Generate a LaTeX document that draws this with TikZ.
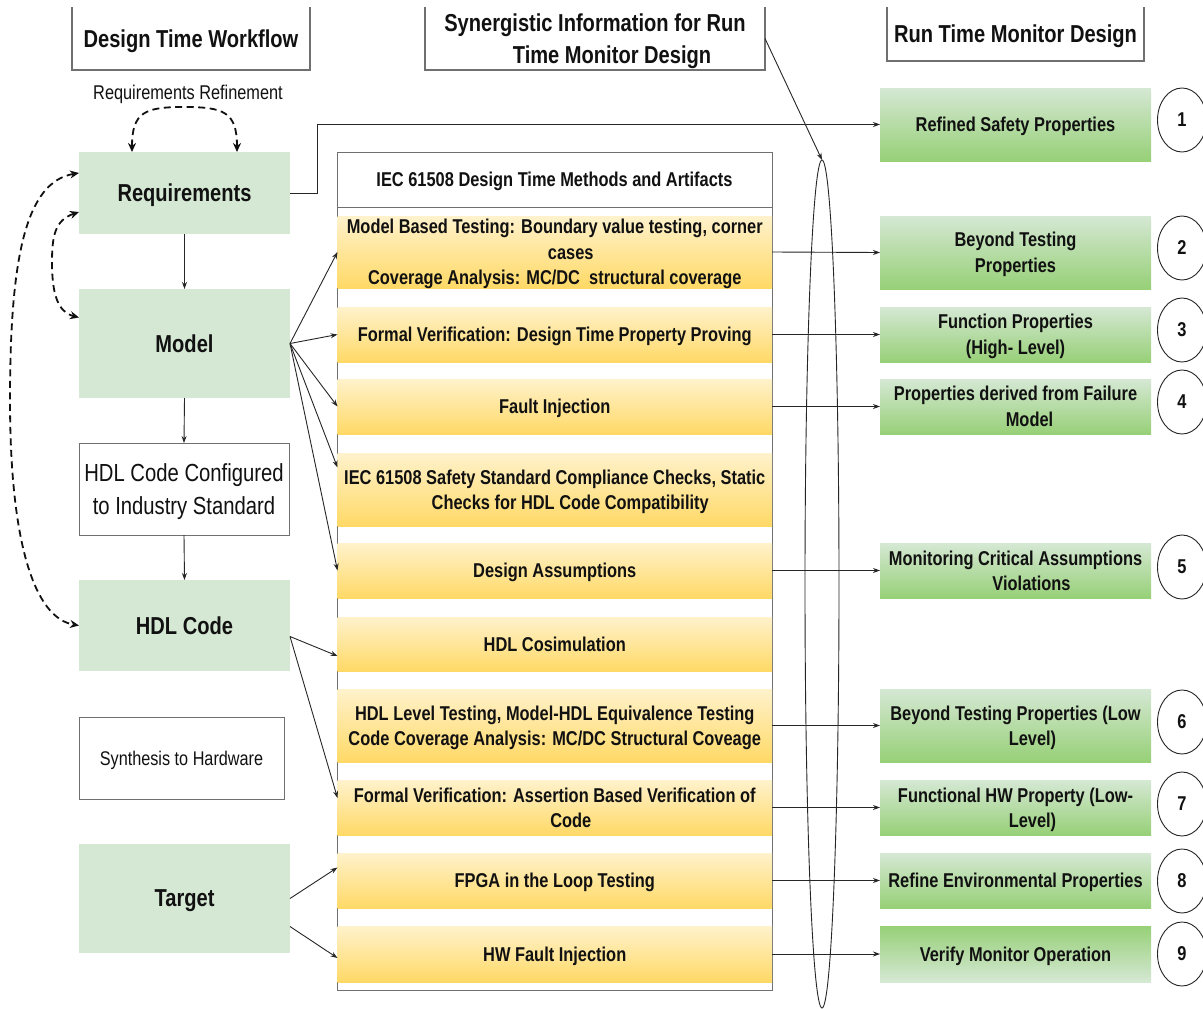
\documentclass[tikz,border=0pt]{standalone}
\usepackage{fontspec}
\setmainfont[FakeStretch=0.82]{Liberation Sans}
\usetikzlibrary{arrows.meta,shapes.geometric}

\definecolor{ink}{HTML}{111111}
\definecolor{wire}{HTML}{262626}
\definecolor{edge}{HTML}{707070}
\definecolor{stepgreen}{HTML}{D5E8D4}
\definecolor{ylwtop}{HTML}{FFF2CC}
\definecolor{ylwbot}{HTML}{FFD966}
\definecolor{grntop}{HTML}{D5E8D4}
\definecolor{grnbot}{HTML}{97D077}

\newcommand{\hdrfont}{\bfseries\fontsize{24.5}{32}\selectfont}
\newcommand{\cellfont}{\bfseries\fontsize{20}{25.5}\selectfont}

\begin{document}
\begin{tikzpicture}[x=1pt,y=-1pt,
  every node/.style={text=ink, inner sep=0pt, outer sep=0pt, text depth=0pt},
  hdrbox/.style={anchor=north west, font=\hdrfont, align=center},
  hdrline/.style={draw=edge, line width=1.1pt},
  flowbox/.style={anchor=north west, fill=stepgreen, font=\hdrfont},
  plainbox/.style={anchor=north west, draw=edge, line width=1pt, fill=white, align=center},
  band/.style={anchor=north west, minimum width=434.5pt, top color=ylwtop, bottom color=ylwbot,
               font=\cellfont, align=center},
  prop/.style={anchor=north west, minimum width=271pt, top color=grntop, bottom color=grnbot,
               font=\cellfont, align=center},
  propdark/.style={prop, top color=grnbot, bottom color=grntop},
  numring/.style={ellipse, draw=wire, line width=0.9pt, minimum width=49pt, minimum height=64pt,
                  font=\cellfont},
  conn/.style={draw=wire, line width=0.9pt, -{Stealth[length=7pt,width=5pt]}},
  loopback/.style={draw=ink, line width=1.8pt, dash pattern=on 7pt off 4.5pt,
                   {Stealth[length=9pt,width=8pt]}-{Stealth[length=9pt,width=8pt]}}
]
\useasboundingbox (0,0) rectangle (1203,1009);
\fill[white] (0,0) rectangle (1203,1009);

% ---------- column headers (open at the top) ----------
\node[hdrbox, minimum width=238pt, minimum height=63pt] (hdrA) at (72,7) {Design Time Workflow};
\draw[hdrline] (hdrA.north west) |- (hdrA.south east) -- (hdrA.north east);

\node[hdrbox, minimum width=340pt, minimum height=63pt] (hdrB) at (425,7)
  {Synergistic Information for Run\\\hspace*{34pt}Time Monitor Design};
\draw[hdrline] (hdrB.north west) |- (hdrB.south east) -- (hdrB.north east);

\node[hdrbox, minimum width=257pt, minimum height=54pt] (hdrC) at (887,7) {Run Time Monitor Design};
\draw[hdrline] (hdrC.north west) |- (hdrC.south east) -- (hdrC.north east);

% ---------- design time workflow ----------
\node[font=\fontsize{19.9}{24}\selectfont] (refine) at (188,92) {Requirements Refinement};

\node[flowbox, minimum width=211pt, minimum height=82pt] (req) at (79,152) {Requirements};
\node[flowbox, minimum width=211pt, minimum height=109pt] (model) at (79,289) {Model};
\node[plainbox, minimum width=210pt, minimum height=92pt, font=\fontsize{24.7}{33}\selectfont] (cfg) at (79,443)
  {HDL Code Configured\\to Industry Standard};
\node[flowbox, minimum width=211pt, minimum height=91pt] (hdl) at (79,580) {HDL Code};
\node[plainbox, minimum width=205pt, minimum height=82pt, font=\fontsize{19.8}{24}\selectfont] (synth) at (79,717)
  {Synthesis to Hardware};
\node[flowbox, minimum width=211pt, minimum height=109pt] (tgt) at (79,844) {Target};

\draw[conn] (req.south) -- (model.north);
\draw[conn] (model.south) -- (cfg.north);
\draw[conn] (cfg.south) -- (hdl.north);

% refinement loops
\draw[loopback] ([xshift=-52.5pt]req.north) .. controls (132,112) and (145,107) .. (184,107)
  .. controls (224,107) and (237,112) .. ([xshift=52.5pt]req.north);
\draw[loopback] ([yshift=20pt]req.west) .. controls (25,182) and (10,260) .. (10,400)
  .. controls (10,545) and (35,618) .. (hdl.west);
\draw[loopback] ([yshift=-19pt]req.west) .. controls (55,220) and (52,236) .. (52,262)
  .. controls (52,295) and (58,312) .. ([yshift=26pt]model.west);

% ---------- IEC 61508 methods and artifacts ----------
\node[anchor=north west, draw=edge, line width=1pt, minimum width=435pt, minimum height=838pt] (iec) at (337,152) {};
\node[anchor=north west, draw=edge, line width=1pt, minimum width=435pt, minimum height=55pt, font=\cellfont] (iechead) at (337,152)
  {IEC 61508 Design Time Methods and Artifacts};

\node[band, minimum height=72pt] (b1) at (337.5,216)
  {Model Based Testing: Boundary value testing, corner\\\hspace*{32pt}cases\\Coverage Analysis: MC/DC\ \ structural coverage};
\node[band, minimum height=55pt] (b2) at (337.5,307) {Formal Verification: Design Time Property Proving};
\node[band, minimum height=55pt] (b3) at (337.5,379) {Fault Injection};
\node[band, minimum height=73pt] (b4) at (337.5,453)
  {IEC 61508 Safety Standard Compliance Checks, Static\\\hspace*{31pt}Checks for HDL Code Compatibility};
\node[band, minimum height=55pt] (b5) at (337.5,543) {Design Assumptions};
\node[band, minimum height=54pt] (b6) at (337.5,617) {HDL Cosimulation};
\node[band, minimum height=73pt] (b7) at (337.5,689)
  {HDL Level Testing, Model-HDL Equivalence Testing\\Code Coverage Analysis: MC/DC Structural Coveage};
\node[band, minimum height=55pt] (b8) at (337.5,780)
  {Formal Verification: Assertion Based Verification of\\\hspace*{32pt}Code};
\node[band, minimum height=55pt] (b9) at (337.5,853) {FPGA in the Loop Testing};
\node[band, minimum height=56pt] (b10) at (337.5,926) {HW Fault Injection};

\draw[conn] (model.east) -- (b1.west);
\draw[conn] (model.east) -- (b2.west);
\draw[conn] (model.east) -- (b3.west);
\draw[conn] (model.east) -- ([yshift=22pt]b4.west);
\draw[conn] (model.east) -- (b5.west);
\draw[conn] ([yshift=-11pt]hdl.east) -- ([yshift=-12pt]b6.west);
\draw[conn] ([yshift=-11pt]hdl.east) -- ([yshift=9.5pt]b8.west);
\draw[conn] (tgt.east) -- ([yshift=13pt]b9.west);
\draw[conn] ([yshift=-28pt]tgt.east) -- ([yshift=-4pt]b10.west);

% ---------- run time monitor properties ----------
\node[prop, minimum height=73pt] (p1) at (880,88) {Refined Safety Properties};
\node[prop, minimum height=73pt] (p2) at (880,216) {Beyond Testing\\Properties};
\node[prop, minimum height=55pt] (p3) at (880,307) {Function Properties\\(High- Level)};
\node[prop, minimum height=55pt] (p4) at (880,379) {Properties derived from Failure\\\hspace*{28pt}Model};
\node[prop, minimum height=55pt] (p5) at (880,543) {Monitoring Critical Assumptions\\\hspace*{32pt}Violations};
\node[prop, minimum height=73pt] (p6) at (880,689) {Beyond Testing Properties (Low\\\hspace*{34pt}Level)};
\node[prop, minimum height=55pt] (p7) at (880,780) {Functional HW Property (Low-\\\hspace*{34pt}Level)};
\node[prop, minimum height=55pt] (p8) at (880,853) {Refine Environmental Properties};
\node[propdark, minimum height=56pt] (p9) at (880,926) {Verify Monitor Operation};

\node[numring] (c1) at (1182,120) {1};
\node[numring] (c2) at (1182,248) {2};
\node[numring] (c3) at (1182,330) {3};
\node[numring] (c4) at (1182,402) {4};
\node[numring] (c5) at (1182,567) {5};
\node[numring] (c6) at (1182,722) {6};
\node[numring] (c7) at (1182,804) {7};
\node[numring] (c8) at (1182,881) {8};
\node[numring] (c9) at (1182,954) {9};

% tall lens gathering the synergistic information
\node[ellipse, draw=wire, line width=0.9pt, minimum width=34pt, minimum height=848pt] (lens) at (822,584) {};
\draw[conn] (hdrB.east) -- (lens.north);

\draw[conn] (req.east) -- ++(27,0) |- (p1.west);
\draw[conn] (b1.east) -- (p2.west);
\draw[conn] (b2.east) -- (p3.west);
\draw[conn] (b3.east) -- (p4.west);
\draw[conn] (b5.east) -- (p5.west);
\draw[conn] (b7.east) -- (p6.west);
\draw[conn] (b8.east) -- (p7.west);
\draw[conn] (b9.east) -- (p8.west);
\draw[conn] (b10.east) -- (p9.west);
\end{tikzpicture}
\end{document}
